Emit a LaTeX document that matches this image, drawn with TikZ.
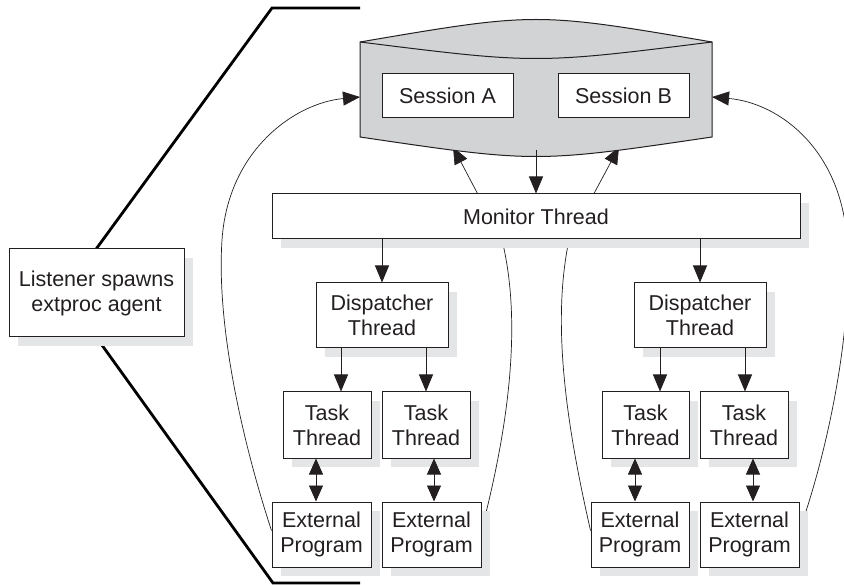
\documentclass[tikz,border=0pt]{standalone}
\usepackage{fontspec}
\setmainfont{Liberation Sans}
\usetikzlibrary{arrows.meta,shadows,backgrounds}
\definecolor{dbgray}{RGB}{209,211,212}
\definecolor{shadowgray}{RGB}{228,229,230}
\definecolor{ink}{RGB}{35,31,32}
\begin{document}
\begin{tikzpicture}[x=1pt,y=-1pt,
  font=\fontsize{21.5pt}{25pt}\selectfont,
  box/.style={draw=ink, line width=1pt, fill=white, inner sep=0pt, align=center, text=ink},
  shbox/.style={box, general shadow={fill=shadowgray, shadow xshift=9pt, shadow yshift=-9pt}},
  tip/.style={-{Triangle[length=17pt,width=14pt]}},
  arr/.style={draw=ink, line width=0.9pt, tip},
  darr/.style={draw=ink, line width=0.9pt, {Triangle[length=16pt,width=14pt]}-{Triangle[length=16pt,width=14pt]}},
  curvearr/.style={draw=ink, line width=0.7pt, tip},
  bracketline/.style={draw=black, line width=2.8pt, line join=miter}
]
\useasboundingbox (0,0) rectangle (844,585);

% database
\fill[dbgray] (360,42) .. controls (536,12) .. (712,42) -- (712,137) .. controls (536,163) .. (360,137) -- cycle;
\draw[ink, line width=1pt] (360,42) .. controls (536,12) .. (712,42) -- (712,137) .. controls (536,163) .. (360,137) -- cycle;
\draw[ink, line width=1pt] (360,42) .. controls (536,64) .. (712,42);
\coordinate (dbW) at (360,97);
\coordinate (dbE) at (712,97);
\coordinate (dbB) at (536,150);
\coordinate (dbBL) at (453,147);
\coordinate (dbBR) at (619,147);

\node[box, minimum width=131pt, minimum height=44pt] (SessA) at (447.5,96) {Session A};
\node[box, minimum width=131pt, minimum height=44pt] (SessB) at (623.5,96) {Session B};

\node[shbox, minimum width=175pt, minimum height=88pt] (Listener) at (96.5,293) {Listener spawns\\extproc agent};
\node[shbox, minimum width=528pt, minimum height=45pt] (Monitor) at (536,216.5) {Monitor Thread};

\node[shbox, minimum width=132pt, minimum height=65pt] (DispL) at (382,315.5) {Dispatcher\\Thread};
\node[shbox, minimum width=132pt, minimum height=65pt] (DispR) at (700,315.5) {Dispatcher\\Thread};

\node[shbox, minimum width=88pt, minimum height=66pt] (TaskLa) at (327,425) {Task\\Thread};
\node[shbox, minimum width=88pt, minimum height=66pt] (TaskLb) at (426,425) {Task\\Thread};
\node[shbox, minimum width=87pt, minimum height=66pt] (TaskRa) at (645.5,425) {Task\\Thread};
\node[shbox, minimum width=88pt, minimum height=66pt] (TaskRb) at (744,425) {Task\\Thread};

\node[shbox, minimum width=99pt, minimum height=65pt] (ExtLa) at (321.5,534.5) {External\\Program};
\node[shbox, minimum width=99pt, minimum height=65pt] (ExtLb) at (431.5,534.5) {External\\Program};
\node[shbox, minimum width=98pt, minimum height=65pt] (ExtRa) at (640,534.5) {External\\Program};
\node[shbox, minimum width=99pt, minimum height=65pt] (ExtRb) at (749.5,534.5) {External\\Program};

% straight arrows
\draw[arr] (dbB) -- (dbB |- Monitor.north);
\draw[arr] (Monitor.south -| DispL) -- (DispL.north);
\draw[arr] (Monitor.south -| DispR) -- (DispR.north);
\draw[arr] (DispL.south -| 341,0) -- (TaskLa.north -| 341,0);
\draw[arr] (DispL.south -| 426,0) -- (TaskLb.north -| 426,0);
\draw[arr] (DispR.south -| 660,0) -- (TaskRa.north -| 660,0);
\draw[arr] (DispR.south -| 745,0) -- (TaskRb.north -| 745,0);
\draw[darr] (TaskLa.south -| 316,0) -- (ExtLa.north -| 316,0);
\draw[darr] (TaskLb.south -| 434,0) -- (ExtLb.north -| 434,0);
\draw[darr] (TaskRa.south -| 635,0) -- (ExtRa.north -| 635,0);
\draw[darr] (TaskRb.south -| 753,0) -- (ExtRb.north -| 753,0);

\begin{pgfonlayer}{background}
% curves
\draw[curvearr] ([yshift=4pt]ExtLa.west) .. controls (245,450) and (216,330) .. (222,240) .. controls (228,150) and (295,103) .. (dbW);
\draw[curvearr] ([yshift=4pt]ExtRb.east) .. controls (828,450) and (853,330) .. (847,240) .. controls (841,150) and (780,103) .. (dbE);
\draw[curvearr] ([yshift=4pt]ExtLb.east) .. controls (505,440) and (524,330) .. (502,240) -- (dbBL);
\draw[curvearr] ([yshift=4pt]ExtRa.west) .. controls (570,440) and (550,330) .. (569,240) -- (dbBR);
% bracket
\draw[bracketline] (360,8) -- (272,8) -- (Listener.north);
\draw[bracketline] (Listener.south) -- (273,583) -- (360,583);
\end{pgfonlayer}
\end{tikzpicture}
\end{document}
